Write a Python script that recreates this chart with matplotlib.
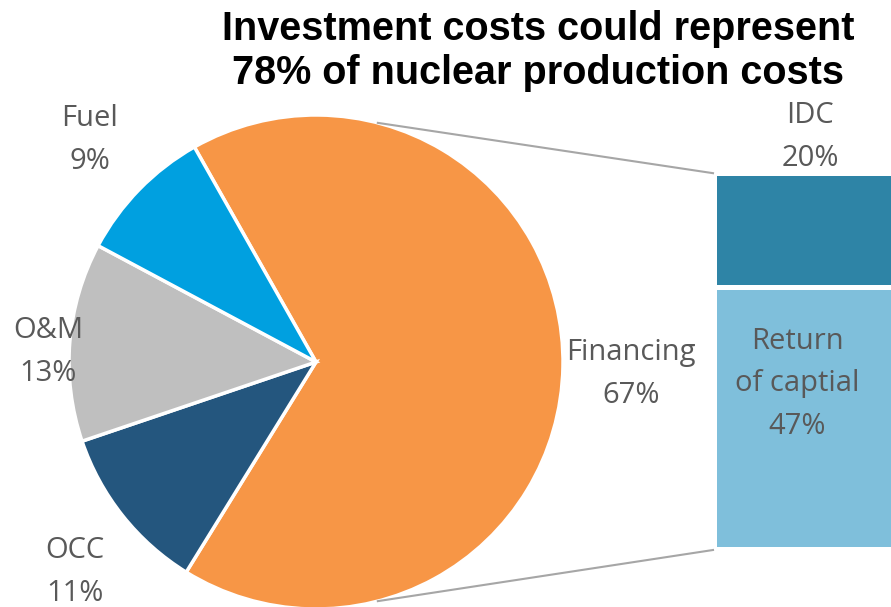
import numpy as np
import matplotlib.pyplot as plt

# pie data (share of production costs, %)
pie_labels = ['Financing', 'OCC', 'O&M', 'Fuel']
pie_values = [67, 11, 13, 9]
pie_colors = ['#F79646', '#24567E', '#BFBFBF', '#00A0E0']

# breakdown of financing (%)
bar_labels = ['Return\nof captial', 'IDC']
bar_values = [47, 20]
bar_colors = ['#7FBFDB', '#2E84A6']

title = 'Investment costs could represent\n78% of nuclear production costs'
label_color = '#595959'
label_font = ['Open Sans', 'DejaVu Sans']

fig = plt.figure(figsize=(8.91, 6.07), dpi=100)
ax = fig.add_axes([0, 0, 1, 1])

# pie geometry in pixels
cx, cy, r = 316, 245, 247
start = 119.5
ax.pie(pie_values, colors=pie_colors, startangle=start, counterclock=False,
       center=(cx, cy), radius=r, frame=True,
       wedgeprops=dict(edgecolor='white', linewidth=2.5))

# stacked bar for the financing part
px_per_pct = 5.46
gap = 5
bar_x0, bar_x1 = 717, 895
y0 = 60
bottoms = []
b = y0
for v in bar_values:
    bottoms.append(b)
    b += v * px_per_pct + gap
ax.bar([(bar_x0 + bar_x1) / 2] * len(bar_values),
       [v * px_per_pct for v in bar_values], bottom=bottoms,
       width=bar_x1 - bar_x0, color=bar_colors, linewidth=0)
bar_top = bottoms[-1] + bar_values[-1] * px_per_pct

# connector lines from pie edge to bar
a = np.deg2rad(75.5)
ax.plot([cx + r * np.cos(a), bar_x0 - 4], [cy + r * np.sin(a), bar_top + 3],
        color='#A6A6A6', lw=1.5)
ax.plot([cx + r * np.cos(a), bar_x0 - 4], [cy - r * np.sin(a), y0 - 3],
        color='#A6A6A6', lw=1.5)

# data labels
pie_label_pos = [(631, 233), (75, 35), (48, 255), (90, 467)]
for name, v, (x, y) in zip(pie_labels, pie_values, pie_label_pos):
    ax.text(x, y, f'{name}\n{v}%', ha='center', va='center', fontsize=21,
            color=label_color, family=label_font, linespacing=1.6)

bar_label_pos = [(797, 223), (810, 470)]
for name, v, (x, y) in zip(bar_labels, bar_values, bar_label_pos):
    ax.text(x, y, f'{name}\n{v}%', ha='center', va='center', fontsize=21,
            color=label_color, family=label_font, linespacing=1.6)

ax.set_xlim(0, 891)
ax.set_ylim(0, 607)
ax.set_aspect('equal')
ax.axis('off')

fig.text(538 / 891, 1 - 10 / 607, title, ha='center', va='top',
         fontsize=28.5, fontweight='bold', linespacing=1.2,
         family=['Liberation Sans Narrow', 'Liberation Sans', 'DejaVu Sans'])

fig.savefig('out.png', dpi=100)
